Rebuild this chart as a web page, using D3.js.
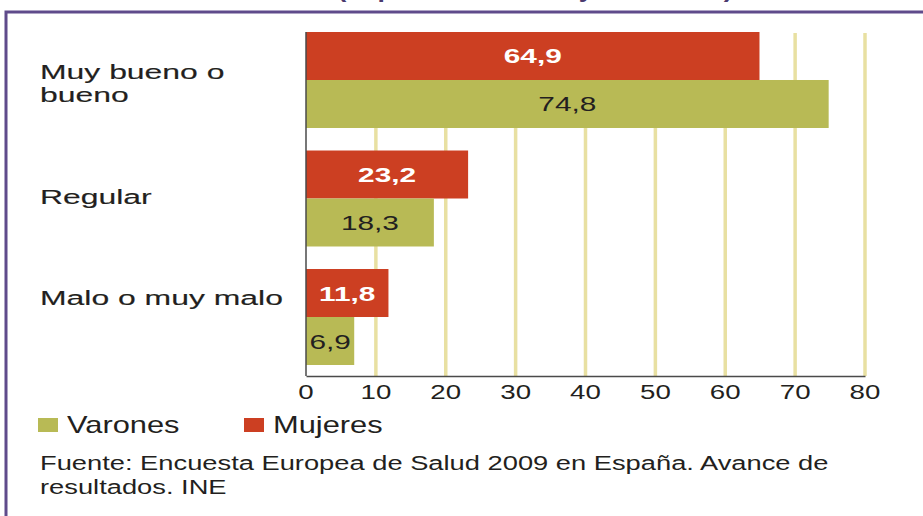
<!DOCTYPE html>
<html>
<head>
<meta charset="utf-8">
<script src="https://cdn.jsdelivr.net/npm/d3@7"></script>
<style>
  body { margin: 0; background: #fff; }
  svg { display: block; font-family: "Liberation Sans", Arial, sans-serif; }
</style>
</head>
<body>
<svg id="chart" width="923" height="516"></svg>
<script>
  // data
  var categories = ['Muy bueno o bueno', 'Regular', 'Malo o muy malo'];
  var categoryLines = [['Muy bueno o', 'bueno'], ['Regular'], ['Malo o muy malo']];
  var mujeres = [64.9, 23.2, 11.8];
  var varones = [74.8, 18.3, 6.9];
  var ticks = [0, 10, 20, 30, 40, 50, 60, 70, 80];
  var seriesNames = ['Varones', 'Mujeres'];
  var title = '(% personas de 16 y más años)';
  var source = ['Fuente: Encuesta Europea de Salud 2009 en España. Avance de', 'resultados. INE'];

  var RED = '#cc3f22', GREEN = '#b8ba55', TEXT = '#231f20', GRID = '#e8e0a2';
  var SX = 1.42; // the original text is stretched sideways

  // the category labels are not centred on their bars in the original
  var labelShift = [-8, -2, -19];

  var svg = d3.select('#chart');

  var x = d3.scaleLinear().domain([0, 80]).range([306, 865]);
  var y = d3.scaleBand().domain(categories).range([32, 365]).paddingInner(0.19).paddingOuter(0);
  var half = y.bandwidth() / 2;

  function label(g, tx, ty, str, size, anchor, sx) {
    return g.append('text')
      .attr('transform', 'translate(' + tx + ',' + ty + ') scale(' + (sx || SX) + ',1)')
      .attr('text-anchor', anchor || 'start')
      .style('font-size', size + 'px')
      .attr('fill', TEXT)
      .text(str);
  }

  // title, mostly cut off at the top of the picture
  svg.append('text')
    .attr('x', 535).attr('y', -3)
    .attr('text-anchor', 'middle')
    .attr('textLength', 395).attr('lengthAdjust', 'spacingAndGlyphs')
    .style('font-size', '22px').style('font-weight', 'bold')
    .attr('fill', '#4a3a6e')
    .text(title);

  // frame
  svg.append('path')
    .attr('d', 'M6,516 L6,12 L923,12')
    .attr('fill', 'none')
    .attr('stroke', '#5f4b8b')
    .attr('stroke-width', 3);

  // grid
  svg.append('g').selectAll('line')
    .data(ticks.filter(function(d) { return d > 0; }))
    .join('line')
    .attr('x1', function(d) { return x(d); })
    .attr('x2', function(d) { return x(d); })
    .attr('y1', 33).attr('y2', 376)
    .attr('stroke', GRID).attr('stroke-width', 3.5);

  // bars
  var groups = svg.append('g').selectAll('g')
    .data(categories)
    .join('g');

  groups.append('rect')
    .attr('x', x(0))
    .attr('y', function(d) { return y(d); })
    .attr('width', function(d, i) { return x(mujeres[i]) - x(0); })
    .attr('height', half)
    .attr('fill', RED);

  groups.append('rect')
    .attr('x', x(0))
    .attr('y', function(d) { return y(d) + half; })
    .attr('width', function(d, i) { return x(varones[i]) - x(0); })
    .attr('height', half)
    .attr('fill', GREEN);

  var fmt = function(v) { return v.toFixed(1).replace('.', ','); };

  categories.forEach(function(c, i) {
    label(svg, (x(0) + x(mujeres[i])) / 2, y(c) + half / 2 + 7.5, fmt(mujeres[i]), 21, 'middle')
      .attr('fill', '#fff').style('font-weight', 'bold');
    label(svg, (x(0) + x(varones[i])) / 2, y(c) + half * 1.5 + 7.5, fmt(varones[i]), 21, 'middle');

    var lines = categoryLines[i];
    var base = y(c) + half + 7 + labelShift[i];
    lines.forEach(function(t, j) {
      label(svg, 40, base + j * 23, t, 21, 'start', 1.52)
        .attr('stroke', TEXT).attr('stroke-width', 0.15);
    });
  });

  // axes
  var axisG = svg.append('g').attr('transform', 'translate(0,376)');
  axisG.call(d3.axisBottom(x).tickValues(ticks).tickSize(0).tickFormat(''));
  axisG.select('.domain').attr('stroke', '#4a4a4a').attr('stroke-width', 1.5);
  ticks.forEach(function(t) {
    label(svg, x(t), 399, String(t), 19.5, 'middle');
  });

  svg.append('line')
    .attr('x1', x(0)).attr('x2', x(0))
    .attr('y1', 32).attr('y2', 376)
    .attr('stroke', '#4a4a4a').attr('stroke-width', 1.5);

  // legend
  var legendX = [38, 244];
  var legendColors = [GREEN, RED];
  seriesNames.forEach(function(n, i) {
    svg.append('rect')
      .attr('x', legendX[i]).attr('y', 418)
      .attr('width', 20).attr('height', 14)
      .attr('fill', legendColors[i]);
    label(svg, legendX[i] + 29, 433, n, 23, 'start', 1.34);
  });

  // source
  source.forEach(function(s, i) {
    label(svg, 40, 470 + i * 24, s, 21, 'start', 1.3);
  });
</script>
</body>
</html>
